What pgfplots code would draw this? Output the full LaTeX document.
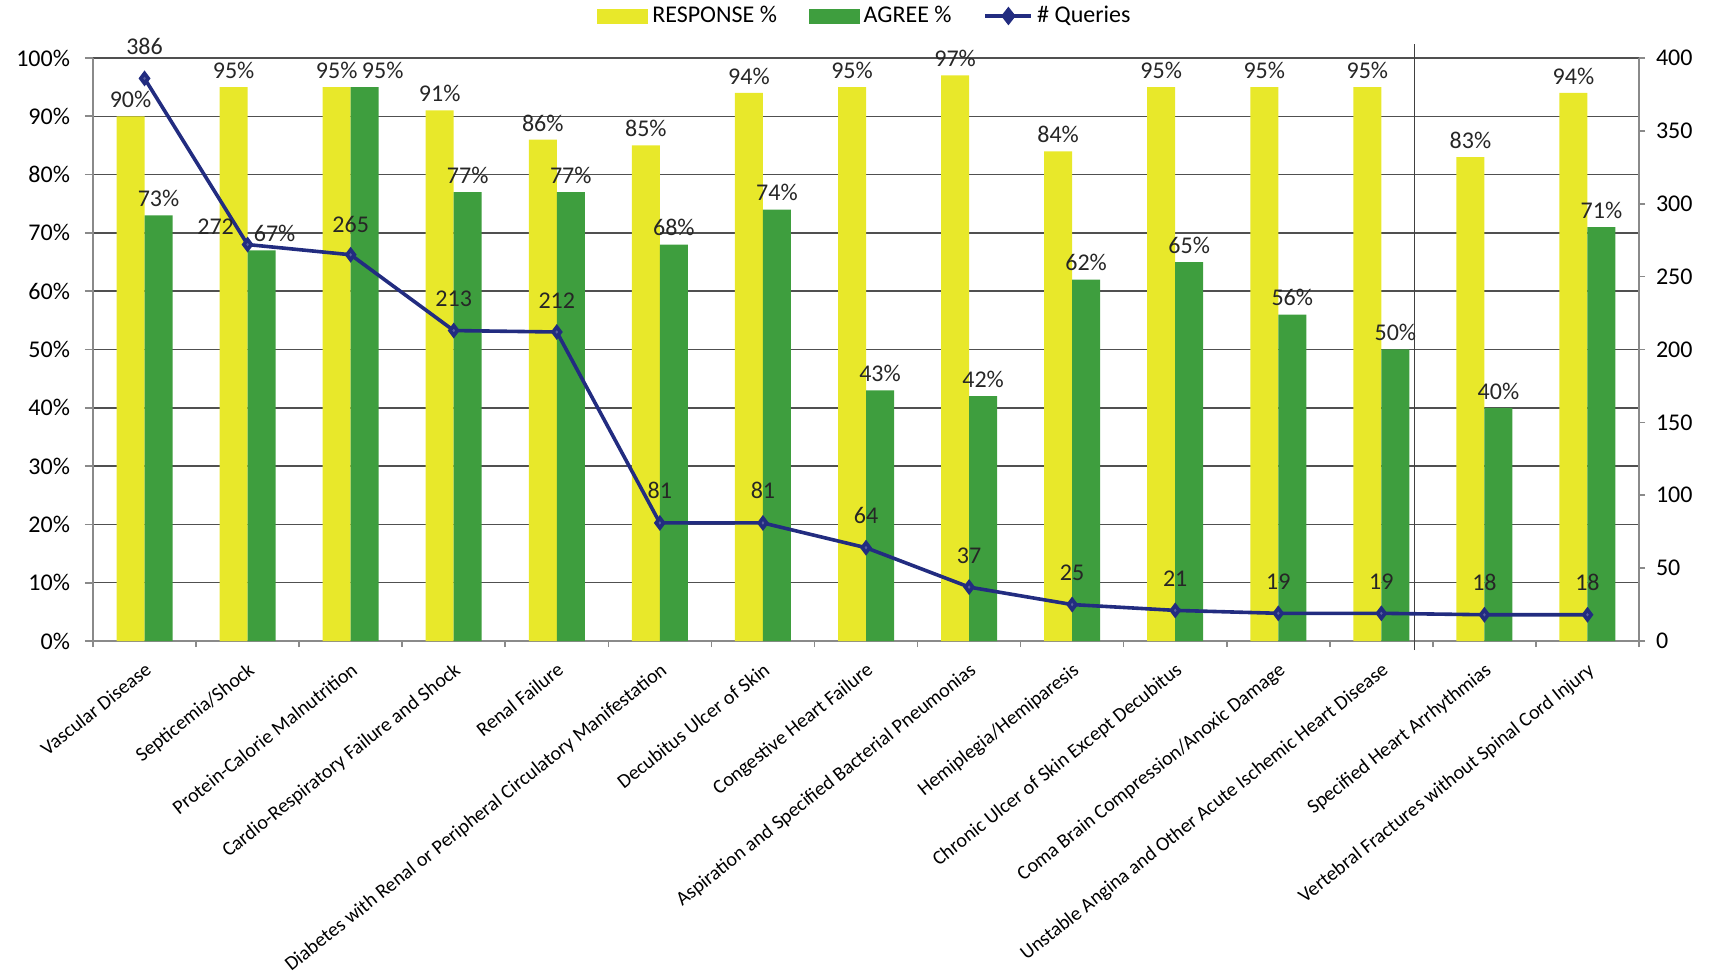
\documentclass[border=0pt]{standalone}
\usepackage{fontspec}
\setmainfont{Carlito}
\usepackage{pgfplots}
\pgfplotsset{compat=1.18}
\usepackage{pgfplotstable}
\pgfkeys{/pgf/number format/assume math mode=true}

\definecolor{yel}{HTML}{E8E82A}
\definecolor{grn}{HTML}{3E9E3E}
\definecolor{navy}{HTML}{222C80}
\definecolor{gridc}{HTML}{505050}
\definecolor{axc}{HTML}{8A8A8A}

\pgfplotstableread{
x resp agree rdx adx
0 90 73 0 0
1 95 67 0 6.5
2 95 95 0 9
3 91 77 0 0
4 86 77 0 0
5 85 68 0 0
6 94 74 0 0
7 95 43 0 0
8 97 42 0 0
9 84 62 0 0
10 95 65 0 0
11 95 56 0 0
12 95 50 0 0
13 83 40 0 0
14 94 71 0 0
}\pct

\pgfplotstableread{
x q dx dy
0 386 0 0
1 272 -16 -7
2 265 0 -1
3 213 0 0
4 212 0 0
5 81 0 0
6 81 0 0
7 64 0 0
8 37 0 0
9 25 0 0
10 21 0 0
11 19 0 0
12 19 0 0
13 18 0 0
14 18 0 0
}\qry

\begin{document}
\begin{tikzpicture}
\useasboundingbox (-46.5pt,-169pt) rectangle (810pt,320.5pt);
\begin{axis}[
  at={(0,0)}, anchor=south west,
  width=773pt, height=291.5pt, scale only axis,
  xmin=-0.5, xmax=14.5, ymin=0, ymax=100,
  ybar=0pt, bar width=14pt,
  clip=false,
  axis x line*=bottom, axis y line*=left,
  axis line style={draw=axc, line width=0.8pt},
  tick align=outside,
  xtick={0,...,14},
  xticklabels={Vascular Disease, Septicemia/Shock, Protein-Calorie Malnutrition, Cardio-Respiratory Failure and Shock, Renal Failure, Diabetes with Renal or Peripheral Circulatory Manifestation, Decubitus Ulcer of Skin, Congestive Heart Failure, Aspiration and Specified Bacterial Pneumonias, Hemiplegia/Hemiparesis, Chronic Ulcer of Skin Except Decubitus, Coma Brain Compression/Anoxic Damage, Unstable Angina and Other Acute Ischemic Heart Disease, Specified Heart Arrhythmias, Vertebral Fractures without Spinal Cord Injury},
  major x tick style={draw=none},
  minor xtick={-0.5,0.5,...,14.5},
  minor x tick style={draw=axc, line width=0.8pt},
  minor tick length=3pt,
  xticklabel style={font=\fontsize{10}{12}\selectfont, rotate=38.5, anchor=north east, inner sep=1pt, yshift=-3.5pt, xshift=-3pt},
  ytick={0,10,...,100},
  yticklabel={\pgfmathprintnumber{\tick}\%},
  yticklabel style={font=\fontsize{12}{14}\selectfont, xshift=-4pt},
  major y tick style={draw=axc, line width=0.8pt},
  major tick length=4pt,
  ymajorgrids,
  major grid style={draw=gridc, line width=0.7pt},
  nodes near coords={\pgfmathprintnumber{\pgfplotspointmeta}\%},
  nodes near coords style={font=\fontsize{12}{14}\selectfont, inner sep=2pt, yshift=2pt, text=black!85},
]
\addplot[fill=yel, draw=none,
  visualization depends on={\thisrow{rdx} \as \rdx},
  every node near coord/.append style={xshift=\rdx*1pt}] table[x=x,y=resp]{\pct};
\addplot[fill=grn, draw=none,
  visualization depends on={\thisrow{adx} \as \adx},
  every node near coord/.append style={xshift=\adx*1pt}] table[x=x,y=agree]{\pct};
\draw[black!75, line width=0.5pt] ([yshift=-4.5pt]axis cs:12.32,0) -- ([yshift=7pt]axis cs:12.32,100);
\end{axis}
\begin{axis}[
  at={(0,0)}, anchor=south west,
  width=773pt, height=291.5pt, scale only axis,
  xmin=-0.5, xmax=14.5, ymin=0, ymax=400,
  clip=false,
  axis x line=none, axis y line*=right,
  axis line style={draw=axc, line width=0.8pt},
  tick align=outside,
  ytick={0,50,...,400},
  yticklabel style={font=\fontsize{12}{14}\selectfont, xshift=2pt},
  major y tick style={draw=axc, line width=0.8pt},
  major tick length=3pt,
  legend columns=3,
  legend style={at={(0.5,1)}, anchor=center, yshift=21pt, draw=none, fill=none,
    font=\fontsize{12}{14}\selectfont, inner sep=0pt,
    /tikz/every even column/.append style={column sep=14pt}},
]
\addlegendimage{legend image code/.code={\fill[yel] (0pt,-3.5pt) rectangle (25pt,3.5pt);}}
\addlegendentry{RESPONSE \%}
\addlegendimage{legend image code/.code={\fill[grn] (0pt,-3.5pt) rectangle (25pt,3.5pt);}}
\addlegendentry{AGREE \%}
\addplot[navy, line width=1.8pt, mark=diamond*, mark size=2.5pt, mark options={fill=navy!75!white, draw=navy},
  legend image code/.code={\draw[navy, line width=1.8pt] (0pt,0pt) -- (23pt,0pt); \fill[navy] (11.5pt,3.2pt) -- (14pt,0pt) -- (11.5pt,-3.2pt) -- (9pt,0pt) -- cycle;},
  visualization depends on={\thisrow{dx} \as \dx},
  visualization depends on={\thisrow{dy} \as \dy},
  nodes near coords,
  nodes near coords style={font=\fontsize{12}{14}\selectfont, text=black!85, anchor=south, inner sep=2pt, xshift=\dx*1pt, yshift=9pt+\dy*1pt},
] table[x=x,y=q]{\qry};
\addlegendentry{\# Queries}
\end{axis}
\end{tikzpicture}
\end{document}
